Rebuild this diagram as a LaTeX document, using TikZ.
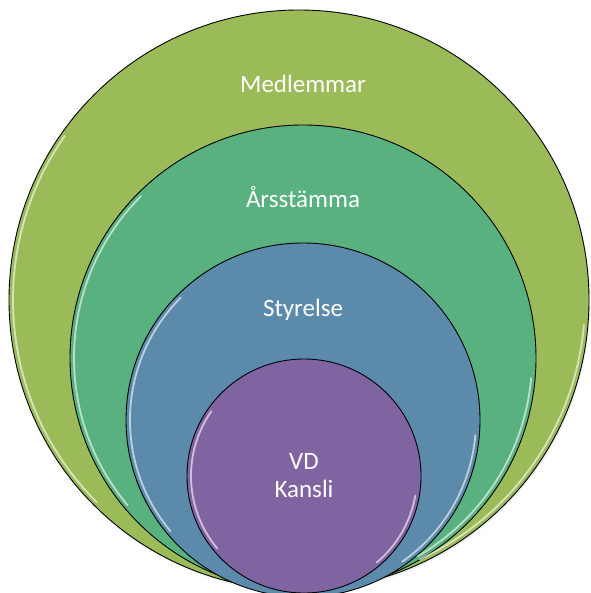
\documentclass[tikz,border=0pt]{standalone}
\usepackage{fontspec}
\setmainfont{Carlito}
\definecolor{olive}{RGB}{155,187,89}
\definecolor{sea}{RGB}{88,177,126}
\definecolor{steel}{RGB}{91,138,171}
\definecolor{plum}{RGB}{128,100,162}
\begin{document}
\begin{tikzpicture}[x=1pt,y=-1pt,
  ring/.style={circle, draw=black, line width=0.9pt, inner sep=0pt},
  lbl/.style={text=white, font=\fontsize{25}{28}\selectfont, align=center},
  shine/.style={white, line width=1.8pt, opacity=0.6, line cap=round}]
\useasboundingbox (0,0) rectangle (590,593);
\fill[black!20, opacity=0.35] (300,302) circle[radius=290];
\node[ring, fill=olive, minimum size=580pt] (c1) at (299,300) {};
\node[ring, fill=sea, minimum size=466pt] (c2) at (303,358) {};
\node[ring, fill=steel, minimum size=354pt] (c3) at (303,420) {};
\node[ring, fill=plum, minimum size=234pt] (c4) at (304,476) {};
\draw[shine] ([shift={(299,300)}]135:286) arc[start angle=135, end angle=215, radius=286];
\draw[shine] ([shift={(299,300)}]5:286) arc[start angle=5, end angle=65, radius=286];
\draw[shine] ([shift={(303,358)}]140:229) arc[start angle=140, end angle=225, radius=229];
\draw[shine] ([shift={(303,358)}]5:229) arc[start angle=5, end angle=60, radius=229];
\draw[shine] ([shift={(303,420)}]140:173) arc[start angle=140, end angle=225, radius=173];
\draw[shine] ([shift={(303,420)}]5:173) arc[start angle=5, end angle=55, radius=173];
\draw[shine] ([shift={(304,476)}]140:113) arc[start angle=140, end angle=215, radius=113];
\draw[shine] ([shift={(304,476)}]10:113) arc[start angle=10, end angle=50, radius=113];
\node[lbl] (t1) at (303,84) {Medlemmar};
\node[lbl] (t2) at (303,197) {Årsstämma};
\node[lbl] (t3) at (303,310) {Styrelse};
\node[lbl] (t4) at (304,476) {VD\\Kansli};
\end{tikzpicture}
\end{document}
